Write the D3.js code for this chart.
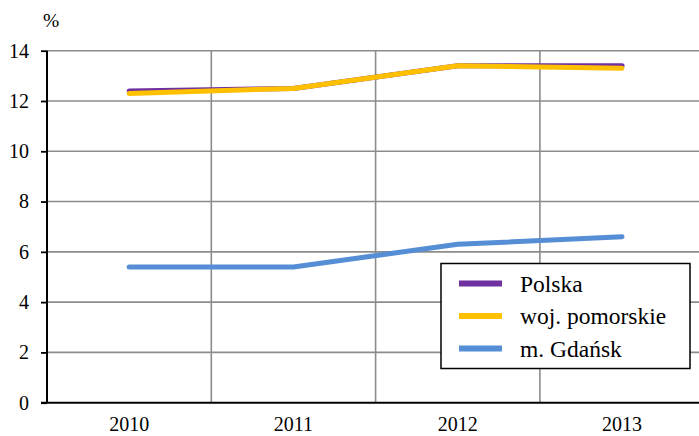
<!DOCTYPE html>
<html>
<head>
<meta charset="utf-8">
<script src="https://cdn.jsdelivr.net/npm/d3@7"></script>
<style>
  body { margin: 0; background: #fff; }
  svg { display: block; }
</style>
</head>
<body>
<div id="chart"></div>
<script>
let years = ["2010", "2011", "2012", "2013"];
let polska = [12.4, 12.5, 13.4, 13.4];
let pomorskie = [12.3, 12.5, 13.4, 13.3];
let gdansk = [5.4, 5.4, 6.3, 6.6];
let seriesNames = ["Polska", "woj. pomorskie", "m. Gdańsk"];
let seriesColors = ["#7030A0", "#FFC000", "#558ED5"];
let yTicks = [0, 2, 4, 6, 8, 10, 12, 14];

let width = 699;
let height = 436;
let padding = { left: 47, top: 50.7, bottom: 33.3 };
let bandW = 164.3;
let serifFont = "'Liberation Serif', 'Times New Roman'";

let svg = d3.select('#chart').append('svg')
    .attr('width', width).attr('height', height);

let xScale = d3.scaleBand()
    .domain(years)
    .range([padding.left, padding.left + bandW * years.length])
let yScale = d3.scaleLinear()
    .domain([0, 14])
    .range([height - padding.bottom, padding.top])

// horizontal gridlines
svg.append('g').selectAll('line')
    .data(yTicks.filter(d => d > 0))
    .enter().append('line')
    .attr('x1', padding.left).attr('x2', width)
    .attr('y1', d => yScale(d)).attr('y2', d => yScale(d))
    .attr('stroke', '#8c8c8c').attr('stroke-width', 1.6)

// vertical gridlines between categories
svg.append('g').selectAll('line')
    .data(years.slice(1))
    .enter().append('line')
    .attr('x1', d => xScale(d)).attr('x2', d => xScale(d))
    .attr('y1', yScale(14)).attr('y2', yScale(0))
    .attr('stroke', '#8c8c8c').attr('stroke-width', 1.6)

// axes
let yAxis = d3.axisLeft(yScale).tickValues(yTicks).tickSize(6).tickPadding(12)
let gy = svg.append('g')
    .attr('transform', 'translate(' + padding.left + ',0)')
    .call(yAxis)
gy.select('.domain').remove()
gy.selectAll('.tick line').attr('stroke', '#000').attr('stroke-width', 1.8)
gy.selectAll('.tick text').attr('font-size', 20).attr('fill', '#000')
    .style('font-family', serifFont)

svg.append('line')
    .attr('x1', padding.left).attr('x2', padding.left)
    .attr('y1', yScale(14)).attr('y2', yScale(0))
    .attr('stroke', '#000').attr('stroke-width', 2)

let xAxis = d3.axisBottom(xScale).tickSize(0).tickPadding(14)
let gx = svg.append('g')
    .attr('transform', 'translate(0,' + yScale(0) + ')')
    .call(xAxis)
gx.select('.domain').remove()
gx.selectAll('.tick text').attr('font-size', 20).attr('fill', '#000')
    .style('font-family', serifFont)

svg.append('line')
    .attr('x1', padding.left - 6).attr('x2', width)
    .attr('y1', yScale(0)).attr('y2', yScale(0))
    .attr('stroke', '#000').attr('stroke-width', 2)

svg.append('text')
    .attr('x', 43).attr('y', 27)
    .attr('font-size', 19.5)
    .style('font-family', serifFont)
    .text('%')

// series lines
let line = d3.line()
    .x((d, i) => xScale(years[i]) + xScale.bandwidth() / 2)
    .y(d => yScale(d))

let allSeries = [polska, pomorskie, gdansk];
svg.append('g').selectAll('path')
    .data(allSeries)
    .enter().append('path')
    .attr('d', d => line(d))
    .attr('fill', 'none')
    .attr('stroke', (d, i) => seriesColors[i])
    .attr('stroke-width', 5)
    .attr('stroke-linecap', 'round')
    .attr('stroke-linejoin', 'round')

// legend
let legend = svg.append('g').attr('transform', 'translate(441,263.5)')
legend.append('rect')
    .attr('width', 249).attr('height', 105)
    .attr('fill', '#fff').attr('stroke', '#000').attr('stroke-width', 1.5)
let items = legend.selectAll('g.item')
    .data(seriesNames)
    .enter().append('g')
    .attr('class', 'item')
    .attr('transform', (d, i) => 'translate(0,' + (20 + i * 32.5) + ')')
items.append('line')
    .attr('x1', 18).attr('x2', 61)
    .attr('stroke', (d, i) => seriesColors[i])
    .attr('stroke-width', 6)
items.append('text')
    .attr('x', 79).attr('dy', '0.34em')
    .attr('font-size', 23.5)
    .style('font-family', serifFont)
    .text(d => d)
</script>
</body>
</html>
